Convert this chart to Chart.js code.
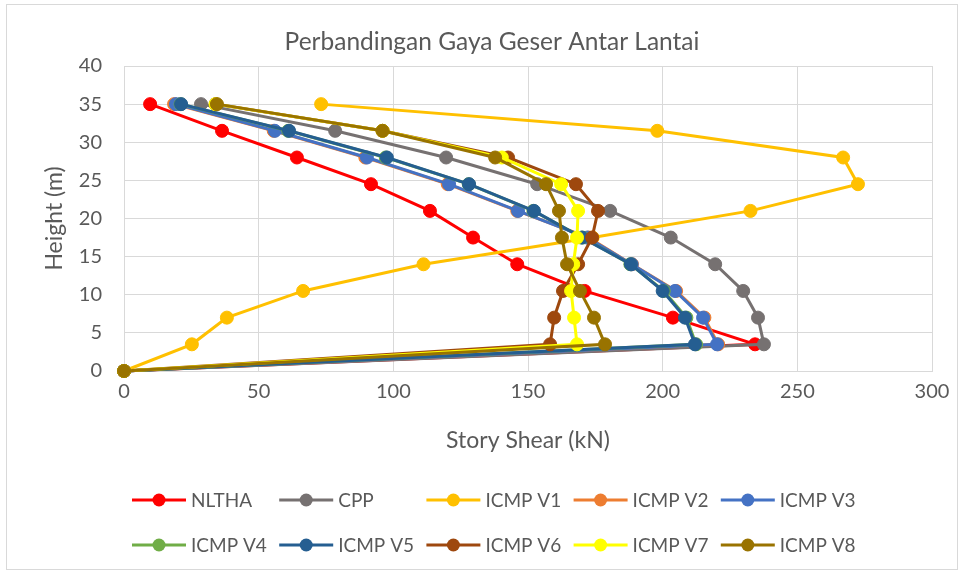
<!DOCTYPE html>
<html lang="en">
<head>
  <meta charset="UTF-8" />
  <title>Perbandingan Gaya Geser Antar Lantai</title>
  <script src="https://cdn.jsdelivr.net/npm/chart.js"></script>
  <style>
    html, body { margin: 0; padding: 0; background: #fff; }
    #wrap { width: 968px; height: 576px; position: relative; }
  </style>
</head>
<body>
  <div id="wrap"><canvas id="shearChart"></canvas></div>

  <script>
    // story heights (m)
    var heights = [0, 3.5, 7, 10.5, 14, 17.5, 21, 24.5, 28, 31.5, 35];

    // story shear (kN) per method, bottom to top
    var nltha  = [0, 234.3, 203.8, 171.0, 146.0, 129.6, 113.6, 91.7, 64.2, 36.4, 9.7];
    var cpp    = [0, 237.6, 235.4, 229.9, 219.5, 203.0, 180.5, 153.4, 119.6, 78.4, 28.6];
    var icmpV1 = [0, 25.2, 38.2, 66.5, 111.2, 174.0, 232.6, 272.5, 267.0, 198.0, 73.2];
    var icmpV2 = [0, 220.6, 215.5, 205.0, 188.6, 172.5, 146.0, 120.2, 89.6, 55.6, 18.6];
    var icmpV3 = [0, 220.2, 215.0, 204.6, 188.5, 172.0, 146.3, 120.7, 90.2, 56.0, 19.3];
    var icmpV4 = [0, 212.4, 208.8, 200.4, 188.0, 170.2, 152.0, 128.0, 97.2, 61.0, 21.0];
    var icmpV5 = [0, 212.0, 208.3, 200.0, 188.2, 170.0, 152.2, 128.1, 97.6, 61.3, 21.2];
    var icmpV6 = [0, 158.2, 159.7, 163.0, 168.6, 173.8, 176.0, 167.8, 142.6, 96.0, 34.0];
    var icmpV7 = [0, 168.2, 167.1, 166.0, 166.8, 168.2, 168.6, 162.3, 140.3, 96.0, 34.0];
    var icmpV8 = [0, 178.6, 174.5, 169.3, 164.5, 162.6, 161.5, 156.7, 137.8, 96.0, 34.5];

    var seriesNames = ['NLTHA', 'CPP', 'ICMP V1', 'ICMP V2', 'ICMP V3',
                       'ICMP V4', 'ICMP V5', 'ICMP V6', 'ICMP V7', 'ICMP V8'];
    var seriesValues = [nltha, cpp, icmpV1, icmpV2, icmpV3, icmpV4, icmpV5, icmpV6, icmpV7, icmpV8];
    var seriesColors = ['#FF0000', '#767171', '#FFC000', '#ED7D31', '#4472C4',
                        '#70AD47', '#255E91', '#9E480E', '#FFFF00', '#997300'];

    var chartTitle = 'Perbandingan Gaya Geser Antar Lantai';
    var textColor = '#595959';
    var fontFamily = 'Lato, "Open Sans", sans-serif';

    var datasets = seriesValues.map(function (vals, i) {
      return {
        label: seriesNames[i],
        data: vals.map(function (v, k) { return { x: v, y: heights[k] }; }),
        showLine: true,
        clip: false,
        borderColor: seriesColors[i],
        backgroundColor: seriesColors[i],
        borderWidth: 3,
        pointRadius: 6.5,
        pointBorderWidth: 1,
        pointBorderColor: seriesColors[i],
        pointBackgroundColor: seriesColors[i],
        order: seriesValues.length - i   // later series drawn on top, like Excel
      };
    });

    // frame, title (centred on the whole canvas) and legend in fixed columns
    var excelLook = {
      id: 'excelLook',
      beforeDraw: function (chart) {
        var ctx = chart.ctx;
        ctx.save();
        ctx.fillStyle = '#fff';
        ctx.fillRect(0, 0, chart.width, chart.height);
        ctx.strokeStyle = '#d9d9d9';
        ctx.lineWidth = 1;
        ctx.strokeRect(6.5, 4.5, 951, 565);
        ctx.fillStyle = textColor;
        ctx.font = '24.5px ' + fontFamily;
        ctx.textAlign = 'center';
        ctx.textBaseline = 'middle';
        ctx.fillText(chartTitle, 492, 42);
        ctx.restore();
      },
      afterDraw: function (chart) {
        var ctx = chart.ctx;
        ctx.save();
        ctx.font = '19px ' + fontFamily;
        ctx.textBaseline = 'middle';
        ctx.textAlign = 'left';
        seriesNames.forEach(function (name, i) {
          var x0 = 132 + (i % 5) * 147.2;
          var y = 500 + Math.floor(i / 5) * 45;
          ctx.strokeStyle = seriesColors[i];
          ctx.lineWidth = 3;
          ctx.beginPath();
          ctx.moveTo(x0, y);
          ctx.lineTo(x0 + 54, y);
          ctx.stroke();
          ctx.fillStyle = seriesColors[i];
          ctx.beginPath();
          ctx.arc(x0 + 27, y, 6.5, 0, Math.PI * 2);
          ctx.fill();
          ctx.fillStyle = textColor;
          ctx.fillText(name, x0 + 59, y + 1);
        });
        ctx.restore();
      }
    };

    var ctx = document.getElementById('shearChart').getContext('2d');
    new Chart(ctx, {
      type: 'scatter',
      data: { datasets: datasets },
      plugins: [excelLook],
      options: {
        responsive: true,
        maintainAspectRatio: false,
        animation: false,
        layout: { padding: { left: 0, right: 36, top: 66, bottom: 116 } },
        plugins: {
          legend: { display: false },
          tooltip: { enabled: false },
          title: { display: false }
        },
        scales: {
          x: {
            type: 'linear',
            min: 0,
            max: 300,
            ticks: { stepSize: 50, color: textColor, padding: 9, font: { family: fontFamily, size: 20 } },
            grid: { color: '#d9d9d9', lineWidth: 1, drawTicks: false },
            border: { color: '#d9d9d9' },
            title: {
              display: true,
              text: 'Story Shear (kN)',
              color: textColor,
              font: { family: fontFamily, size: 23 },
              padding: { top: 0, bottom: 6 }
            },
            afterFit: function (scale) { scale.height = 89; }
          },
          y: {
            type: 'linear',
            min: 0,
            max: 40,
            ticks: { stepSize: 5, color: textColor, padding: 22, font: { family: fontFamily, size: 20 } },
            grid: { color: '#d9d9d9', lineWidth: 1, drawTicks: false },
            border: { color: '#d9d9d9' },
            title: {
              display: true,
              text: 'Height (m)',
              color: textColor,
              font: { family: fontFamily, size: 23 },
              padding: { top: 41, bottom: 0 }
            },
            afterFit: function (scale) { scale.width = 124; }
          }
        }
      }
    });
  </script>
</body>
</html>
